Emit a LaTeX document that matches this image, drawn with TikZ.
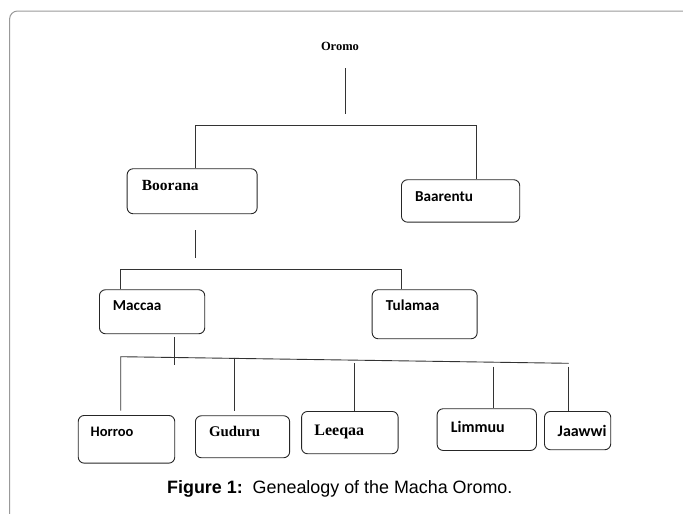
\documentclass[tikz,border=0pt]{standalone}
\usepackage{fontspec}
\setmainfont{Liberation Serif}
\newfontfamily\calfont{Carlito}
\newfontfamily\arialfont{Liberation Sans}
\begin{document}
\begin{tikzpicture}[x=1pt,y=-1pt,
  box/.style={draw=black!85, line width=0.9pt, rounded corners=6pt, anchor=north west, inner sep=0pt},
  conn/.style={draw=black!80, line width=0.9pt},
  serl/.style={anchor=base west, inner sep=0pt, font=\fontsize{15.5}{18}\selectfont\bfseries},
  sanl/.style={anchor=base west, inner sep=0pt, font=\fontsize{15.2}{18}\selectfont\calfont\bfseries},
]
\useasboundingbox (0,0) rectangle (683,514);
% frame
\draw[black!40, line width=1pt, rounded corners=8pt] (9.6,520) -- (9.6,11) -- (700,11);

% boxes
\node[box, minimum width=130pt, minimum height=45pt] (boorana) at (126.7,168.3) {};
\node[box, minimum width=118.3pt, minimum height=42.4pt] (baarentu) at (401,179.3) {};
\node[box, minimum width=105.3pt, minimum height=44pt] (maccaa) at (99,289.3) {};
\node[box, minimum width=105pt, minimum height=49pt] (tulamaa) at (371.7,289.3) {};
\node[box, minimum width=96.5pt, minimum height=47.7pt] (horroo) at (77.8,415) {};
\node[box, minimum width=94.2pt, minimum height=42pt] (guduru) at (195,415.3) {};
\node[box, minimum width=96.6pt, minimum height=42.3pt] (leeqaa) at (301.1,411) {};
\node[box, minimum width=99.3pt, minimum height=41.7pt] (limmuu) at (436.7,408.3) {};
\node[box, minimum width=66.3pt, minimum height=38.3pt] (jaawwi) at (544,411) {};

% labels
\node[anchor=base, inner sep=0pt, font=\fontsize{12.5}{15}\selectfont\bfseries] (oromo) at (340,50) {Oromo};
\node[serl] (tboorana) at (141.7,190.3) {Boorana};
\node[sanl] (tbaarentu) at (415,201.3) {Baarentu};
\node[sanl] (tmaccaa) at (112.7,310.7) {Maccaa};
\node[sanl] (ttulamaa) at (385.7,310.7) {Tulamaa};
\node[sanl, font=\fontsize{14.5}{18}\selectfont\calfont\bfseries] (thorroo) at (90.5,436.7) {Horroo};
\node[serl, font=\fontsize{14.8}{18}\selectfont\bfseries] (tguduru) at (208.9,436.7) {Guduru};
\node[serl, font=\fontsize{16}{18}\selectfont\bfseries] (tleeqaa) at (314.2,435) {Leeqaa};
\node[sanl, font=\fontsize{16}{18}\selectfont\calfont\bfseries] (tlimmuu) at (450.6,432.7) {Limmuu};
\node[sanl, font=\fontsize{16}{18}\selectfont\calfont\bfseries] (tjaawwi) at (557.5,436) {Jaawwi};
\node[anchor=base west, inner sep=0pt, font=\fontsize{17.9}{20}\selectfont\arialfont] (caption) at (167,493) {\textbf{Figure 1:}\ \ Genealogy of the Macha Oromo.};

% connector coordinates
\coordinate (o1) at (345,68);
\coordinate (o2) at (345,114);
\coordinate (h1) at (195,125);
\coordinate (h2) at (476,125);
\coordinate (b1) at (195,230);
\coordinate (b2) at (195,257.7);
\coordinate (m1) at (120,269);
\coordinate (m2) at (401.7,269);
\coordinate (c1) at (174,337.3);
\coordinate (c2) at (174,365);
\coordinate (s1) at (120.7,356.7);
\coordinate (s2) at (568.6,363.3);
\coordinate (g1) at (234.8,357.5);
\coordinate (l1) at (354.4,363.3);
\coordinate (i1) at (493,366.7);
\coordinate (j1) at (568.6,366.7);
\coordinate (hb) at (120.7,410.7);
\coordinate (gb) at (234.8,410.7);

% connectors
\draw[conn] (o1) -- (o2);
\draw[conn] (h1 |- boorana.north) -- (h1) -- (h2) -- (h2 |- baarentu.north);
\draw[conn] (b1) -- (b2);
\draw[conn] (m1 |- maccaa.north) -- (m1) -- (m2) -- (m2 |- tulamaa.north);
\draw[conn] (c1) -- (c2);
\draw[conn] (hb) -- (s1) -- (s2);
\draw[conn] (g1) -- (gb);
\draw[conn] (l1) -- (l1 |- leeqaa.north);
\draw[conn] (i1) -- (i1 |- limmuu.north);
\draw[conn] (j1) -- (j1 |- jaawwi.north);
\end{tikzpicture}
\end{document}
